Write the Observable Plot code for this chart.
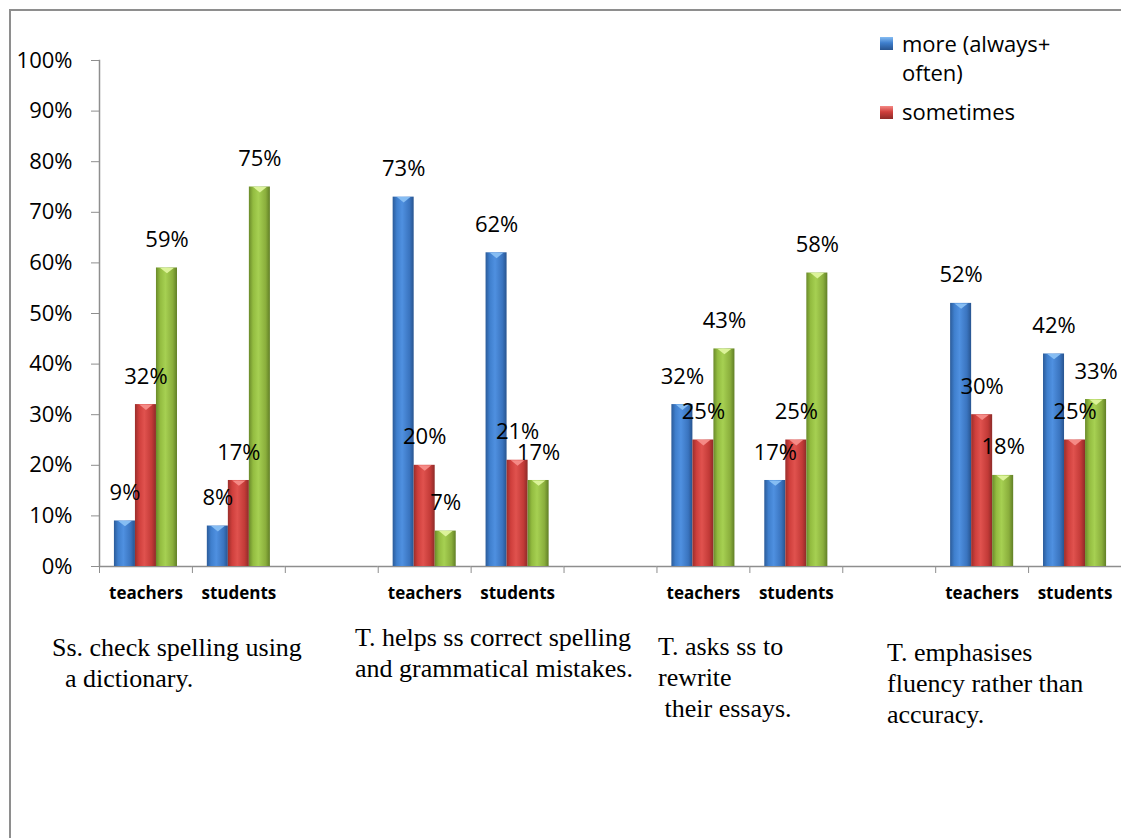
<!DOCTYPE html>
<html>
<head>
<meta charset="utf-8">
<script src="https://cdn.jsdelivr.net/npm/d3@7"></script>
<script src="https://cdn.jsdelivr.net/npm/@observablehq/plot@0.6"></script>
<style>
  body { margin: 0; background: #fff; }
  #wrap { position: relative; width: 1121px; height: 838px; overflow: hidden; font-family: "Open Sans", sans-serif; background: #fff; }
  #border { position: absolute; left: 9px; top: 9px; right: -10px; bottom: -10px; border-left: 2px solid #8e8e8e; border-top: 2px solid #8e8e8e; }
  #chart { position: absolute; left: 0; top: 0; }
  .cap { position: absolute; font-family: "Liberation Serif", "Times New Roman", serif; font-size: 26px; line-height: 31px; white-space: pre; color: #000; }
  .leg { position: absolute; font-size: 22px; line-height: 29px; color: #000; white-space: pre; }
  .sw { position: absolute; width: 13px; height: 13px; }
</style>
</head>
<body>
<div id="wrap"><div id="border"></div><div id="chart"></div></div>
<script>
// ---------- data ----------
const respondents = ["teachers", "students"];
const seriesNames = ["more (always+ often)", "sometimes", "series 3"];
// per statement: teachers, students
const moreValues      = [9, 8, 73, 62, 32, 17, 52, 42];
const sometimesValues = [32, 17, 20, 21, 25, 25, 30, 25];
const thirdValues     = [59, 75, 7, 17, 43, 58, 18, 33];
const captions = [
  ["Ss. check spelling using", "  a dictionary."],
  ["T. helps ss correct spelling", "and grammatical mistakes."],
  ["T. asks ss to", "rewrite", " their essays."],
  ["T. emphasises", "fluency rather than", "accuracy."]
];
const yTicks = [0, 10, 20, 30, 40, 50, 60, 70, 80, 90, 100];
const legendItems = [["more (always+", "often)"], ["sometimes"]];

// ---------- styling ----------
const gradStops = [
  ["#2b5b99", "#3f7fcd", "#4f90e0", "#3a74bf", "#28548f"],
  ["#9a2e2b", "#cf3f3c", "#e0524e", "#c23a37", "#8e2b28"],
  ["#6a8a2a", "#93bc40", "#a6d052", "#8aae3c", "#617f26"]
];
const notchColors = ["#86bdf3", "#f58a86", "#dcf39a"];
const captionPos = [[52, 632], [355, 622], [658, 631], [887, 637]];

// ---------- build table ----------
const allValues = [moreValues, sometimesValues, thirdValues];
const slots = [];
const rows = [];
captions.forEach((_, g) => {
  respondents.forEach((r, i) => {
    const slot = `${g}-${r}`;
    slots.push(slot);
    seriesNames.forEach((s, k) => rows.push({slot, series: s, value: allValues[k][g * 2 + i]}));
  });
  if (g < captions.length - 1) slots.push(`${g}-gap`);
});

const W = 1121, H = 610, mL = 99, mR = 0, mT = 60, mB = 44;
const slotW = (W - mL - mR) / slots.length;

const notch = {
  draw(context, size) {
    const w = Math.sqrt(size) * 0.95;
    context.moveTo(-w, 0);
    context.lineTo(w, 0);
    context.lineTo(0, w * 0.8);
    context.closePath();
  }
};

const marks = [
  Plot.frame({anchor: "left", facetAnchor: "left", stroke: "#8e8e8e", strokeWidth: 1.5}),
  // baseline drawn in every slot (also keeps the gap slots as real facets)
  Plot.ruleY(slots, {fx: d => d, y: d => 0, stroke: "#8e8e8e", strokeWidth: 1.5})
];
seriesNames.forEach((s, k) => {
  marks.push(Plot.barY(rows, {filter: d => d.series === s, fx: "slot", x: "series", y: "value", fill: `url(#grad${k})`}));
  marks.push(Plot.dot(rows, {filter: d => d.series === s, fx: "slot", x: "series", y: "value", symbol: notch, r: 4, fill: notchColors[k], stroke: "none"}));
});
marks.push(
  Plot.text(rows, {fx: "slot", x: "series", y: "value", text: d => `${d.value}%`, dy: -28, fontSize: 22, fill: "#000"}),
  Plot.axisY({ticks: yTicks, tickFormat: d => `${d}%`, tickSize: 8, tickPadding: 19, fontSize: 22, stroke: "#8e8e8e", fill: "#000", label: null, facetAnchor: "left"}),
  Plot.axisFx({anchor: "bottom", tickSize: 0, tickPadding: 20, tickFormat: k => k.endsWith("gap") ? "" : k.split("-")[1], fontSize: 17, fontWeight: "bold", fill: "#000", label: null}),
  Plot.axisFx({anchor: "bottom", tickSize: 7, tickFormat: () => "", dx: -slotW / 2, stroke: "#8e8e8e", label: null})
);

const chart = Plot.plot({
  width: W, height: H,
  marginLeft: mL, marginRight: mR, marginTop: mT, marginBottom: mB,
  style: {fontFamily: "'Open Sans', sans-serif", background: "transparent", overflow: "visible"},
  fx: {domain: slots, padding: 0, round: false},
  x: {domain: seriesNames, paddingInner: 0, paddingOuter: 0.71, round: false, axis: null},
  y: {domain: [0, 100]},
  marks
});

// gradient definitions
const defs = d3.select(chart).insert("defs", ":first-child");
gradStops.forEach((stops, k) => {
  const lg = defs.append("linearGradient").attr("id", `grad${k}`).attr("x1", "0%").attr("x2", "100%").attr("y1", "0%").attr("y2", "0%");
  [0, 0.2, 0.45, 0.8, 1].forEach((o, j) => lg.append("stop").attr("offset", o).attr("stop-color", stops[j]));
});
document.getElementById("chart").appendChild(chart);

// captions
const wrap = document.getElementById("wrap");
captions.forEach((lines, g) => {
  const div = document.createElement("div");
  div.className = "cap";
  div.style.left = captionPos[g][0] + "px";
  div.style.top = captionPos[g][1] + "px";
  div.textContent = lines.join("\n");
  wrap.appendChild(div);
});

// legend
const legendTop = [29, 97];
legendItems.forEach((lines, k) => {
  const sw = document.createElement("div");
  sw.className = "sw";
  sw.style.left = "880px";
  sw.style.top = (k === 0 ? 37 : 106) + "px";
  sw.style.background = `linear-gradient(to bottom, ${notchColors[k]} 0%, ${gradStops[k][1]} 45%, ${gradStops[k][4]} 100%)`;
  wrap.appendChild(sw);
  const t = document.createElement("div");
  t.className = "leg";
  t.style.left = "902px";
  t.style.top = legendTop[k] + "px";
  t.textContent = lines.join("\n");
  wrap.appendChild(t);
});
</script>
</body>
</html>
